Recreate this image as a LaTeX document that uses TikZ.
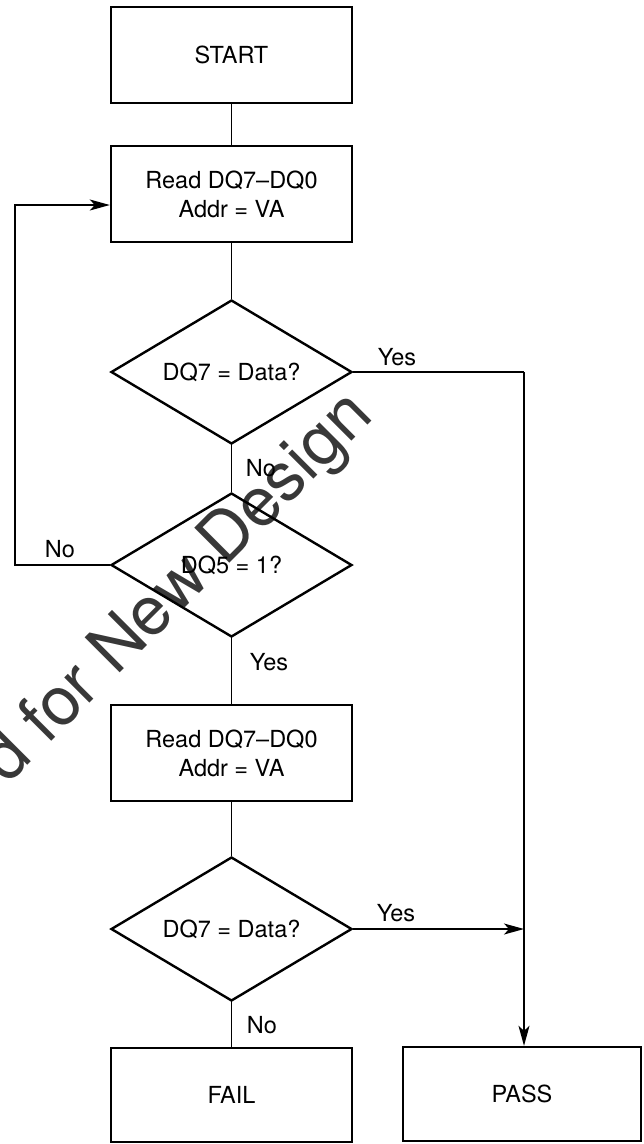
\documentclass[tikz,border=0pt]{standalone}
\usepackage{fontspec}
\setmainfont{TeX Gyre Heros}
\usetikzlibrary{shapes.geometric,arrows.meta}
\begin{document}
\begin{tikzpicture}[x=1pt,y=-1pt,
  every node/.style={font=\fontsize{23.5}{29}\selectfont},
  box/.style={draw, line width=2.4pt, minimum width=241pt, minimum height=96pt, align=center, inner sep=0pt},
  dec/.style={draw, diamond, aspect=1.67, line width=2.4pt, minimum width=241pt, minimum height=144pt, inner sep=0pt},
  conn/.style={line width=1.3pt},
  arr/.style={conn, -{Stealth[length=20pt,width=11pt,inset=5pt]}},
  lbl/.style={inner sep=0pt},
  wmark/.style={rotate=45, anchor=base west, text=black!78, font=\fontsize{68}{80}\selectfont, inner sep=0pt}
]
\useasboundingbox (0,0) rectangle (643,1144);
\clip (0,0) rectangle (643,1144);
% watermark
\node[wmark] (wm) at (7,786) {d for New Design};
% nodes
\node[box] (start) at (231.5,55) {START};
\node[box] (r1) at (231.5,194) {Read DQ7\textendash DQ0\\Addr = VA};
\node[dec] (d1) at (231.5,372) {DQ7 = Data?};
\node[dec] (d2) at (231.5,565) {DQ5 = 1?};
\node[box] (r2) at (231.5,753) {Read DQ7\textendash DQ0\\Addr = VA};
\node[dec] (d3) at (231.5,929) {DQ7 = Data?};
\node[box, minimum height=94pt] (fail) at (231.5,1095) {FAIL};
\node[box, minimum width=238pt, minimum height=94pt] (pass) at (522,1094) {PASS};
% helper coordinates
\coordinate (c1) at (524,372);
\coordinate (c3) at (524,929);
\coordinate (lp1) at (15,565);
\coordinate (lp2) at (15,205);
% connectors
\draw[conn] (start) -- (r1);
\draw[conn] (r1) -- (d1);
\draw[conn] (d1) -- (d2);
\draw[conn] (d2) -- (r2);
\draw[conn] (r2) -- (d3);
\draw[conn] (d3) -- (fail);
\draw[conn] (d1.east) -- (c1);
\draw[arr] (c1) -- (c1 |- pass.north);
\draw[arr] (d3.east) -- (c3);
\draw[arr] (d2.west) -- (lp1) -- (lp2) -- (lp2 -| r1.west);
% labels
\node[lbl] (yes1) at (397,357) {Yes};
\node[lbl] (no1) at (261,468) {No};
\node[lbl] (no2) at (60,549) {No};
\node[lbl] (yes2) at (269,662) {Yes};
\node[lbl] (yes3) at (396,913) {Yes};
\node[lbl] (no3) at (262,1025) {No};
\end{tikzpicture}
\end{document}
